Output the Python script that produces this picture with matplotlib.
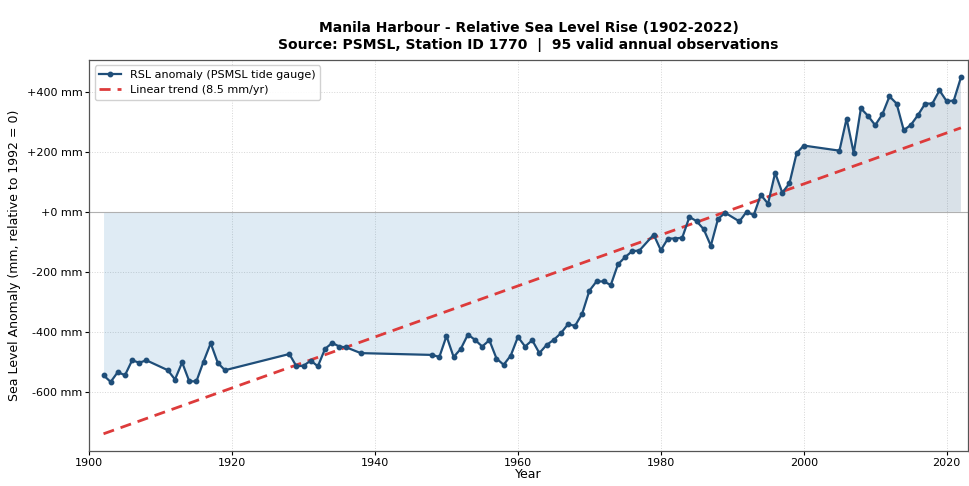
import numpy as np
import matplotlib
matplotlib.use("Agg")
import matplotlib.pyplot as plt
from matplotlib.ticker import FuncFormatter, MultipleLocator

# Annual relative sea level anomalies, Manila Harbour (PSMSL station 1770), mm relative to 1992
years = np.array([
    1902, 1903, 1904, 1905, 1906, 1907, 1908,
    1911, 1912, 1913, 1914, 1915, 1916, 1917, 1918, 1919,
    1928, 1929, 1930, 1931, 1932, 1933, 1934, 1935, 1936,
    1938,
    1948, 1949, 1950, 1951, 1952, 1953, 1954, 1955, 1956, 1957,
    1958, 1959, 1960, 1961, 1962, 1963, 1964, 1965, 1966, 1967,
    1968, 1969, 1970, 1971, 1972, 1973, 1974, 1975, 1976, 1977,
    1979, 1980, 1981, 1982, 1983, 1984, 1985, 1986, 1987, 1988, 1989,
    1991, 1992, 1993, 1994, 1995, 1996, 1997, 1998, 1999, 2000,
    2005, 2006, 2007, 2008, 2009, 2010, 2011, 2012, 2013, 2014,
    2015, 2016, 2017, 2018, 2019, 2020, 2021, 2022,
])
rsl_mm = np.array([
    -545, -567, -534, -545, -495, -503, -495,
    -528, -559, -502, -565, -565, -499, -438, -504, -528,
    -474, -515, -513, -496, -515, -457, -437, -449, -452,
    -471,
    -477, -484, -414, -484, -457, -409, -427, -449, -428, -489,
    -510, -479, -417, -449, -428, -471, -444, -427, -405, -375,
    -380, -339, -263, -232, -232, -244, -175, -151, -131, -129,
    -76, -128, -89, -89, -86, -17, -31, -58, -113, -24, -3,
    -32, 0, -11, 57, 27, 130, 64, 95, 195, 221,
    204, 311, 196, 345, 320, 289, 325, 385, 361, 272,
    290, 323, 361, 361, 405, 369, 371, 448,
])

trend_rate = 8.5          # mm/yr
trend_start_mm = -740     # trend value in the first year

line_color = "#1f4e79"
trend_color = "#dd3b3b"

fig = plt.figure(figsize=(9.7, 4.86), dpi=100)
ax = fig.add_axes([0.092, 0.071, 0.906, 0.806])

ax.fill_between(years, rsl_mm, 0, where=rsl_mm <= 0, interpolate=True,
                color="#1f77b4", alpha=0.14, linewidth=0)
ax.fill_between(years, rsl_mm, 0, where=rsl_mm >= 0, interpolate=True,
                color=line_color, alpha=0.17, linewidth=0)
ax.axhline(0, color="#b0b0b0", linewidth=0.8, zorder=1)

ax.plot(years, rsl_mm, color=line_color, linewidth=1.6, marker="o",
        markersize=3.2, label="RSL anomaly (PSMSL tide gauge)", zorder=3)

trend = trend_start_mm + trend_rate * (years - years[0])
ax.plot(years, trend, color=trend_color, linewidth=2, linestyle="--",
        dashes=(4, 2.5), label=f"Linear trend ({trend_rate:.1f} mm/yr)", zorder=2)

ax.set_xlim(1900, 2023)
ax.set_ylim(-799, 507)
ax.xaxis.set_major_locator(MultipleLocator(20))
ax.yaxis.set_major_locator(MultipleLocator(200))
ax.yaxis.set_major_formatter(FuncFormatter(lambda v, p: f"{v:+.0f} mm"))
ax.tick_params(labelsize=8, length=3, pad=2)

ax.grid(True, color="#cccccc", linestyle=":", linewidth=0.7, alpha=0.8)
ax.set_axisbelow(True)
for s in ax.spines.values():
    s.set_color("#555555")
    s.set_linewidth(0.9)

ax.set_xlabel("Year", fontsize=9, labelpad=0)
ax.set_ylabel("Sea Level Anomaly (mm, relative to 1992 = 0)", fontsize=9)
ax.set_title("Manila Harbour - Relative Sea Level Rise (1902-2022)\n"
             "Source: PSMSL, Station ID 1770  |  95 valid annual observations",
             fontsize=10, fontweight="bold", pad=8)

ax.legend(loc="upper left", fontsize=8, frameon=True, framealpha=0.9,
          edgecolor="#cccccc", borderaxespad=0.5)

fig.savefig("out.png", dpi=100)
